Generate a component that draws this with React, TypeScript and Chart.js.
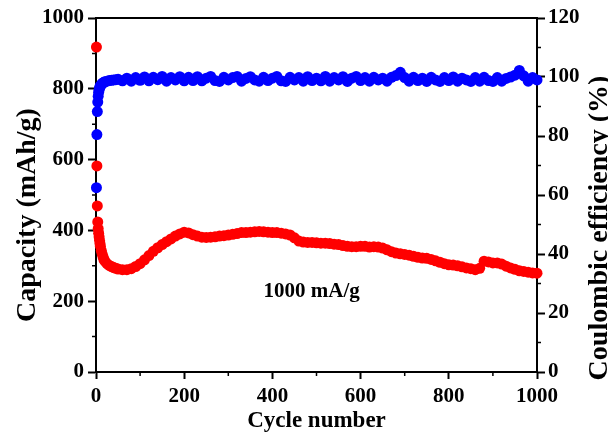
import React, { useEffect, useRef } from "react";
import { Chart, registerables } from "chart.js";

Chart.register(...registerables);

// ---- data ----
const cycles = [
  1, 2, 3, 4, 5, 6, 7, 8, 9, 10, 12, 14, 16, 18, 20, 25, 30, 35, 40, 45, 50,
  60, 70, 80, 90, 100, 110, 120, 130, 140, 150, 160, 170, 180, 190, 200,
  210, 220, 230, 240, 250, 260, 270, 280, 290, 300, 310, 320, 330, 340, 350,
  360, 370, 380, 390, 400, 410, 420, 430, 440, 450, 460, 470, 480, 490, 500,
  510, 520, 530, 540, 550, 560, 570, 580, 590, 600, 610, 620, 630, 640, 650,
  660, 670, 680, 690, 700, 710, 720, 730, 740, 750, 760, 770, 780, 790, 800,
  810, 820, 830, 840, 850, 860, 870, 880, 890, 900, 910, 920, 930, 940, 950,
  960, 970, 980, 990, 1000,
];

const capacity = [
  918, 582, 469, 424, 405, 392, 382, 372, 363, 355, 343, 333, 325, 318, 313, 306, 301, 298, 295, 293, 291,
  289, 289, 292, 298, 306, 317, 329, 341, 351, 360, 368, 376, 384, 390, 395,
  393, 388, 384, 381, 380, 381, 382, 384, 385, 387, 389, 391, 394, 394, 395,
  396, 397, 396, 395, 394, 394, 392, 390, 387, 379, 370, 367, 366, 366, 365,
  364, 364, 363, 361, 360, 357, 355, 354, 354, 355, 355, 353, 354, 353, 350,
  345, 340, 336, 334, 332, 330, 327, 324, 322, 321, 318, 314, 310, 306, 303,
  302, 300, 297, 294, 292, 289, 293, 313, 311, 308, 308, 305, 299, 294, 290,
  286, 284, 282, 280, 279,
];

const efficiency = [
  62.5, 80.5, 88.3, 91.5, 93.5, 94.8, 95.6, 96.2, 96.7, 97.0, 97.4, 97.8, 98.0, 98.2, 98.4, 98.6, 98.8, 98.9, 99.0, 99.1, 99.2,
  98.7, 99.6, 98.6, 99.8, 98.9, 100.0, 98.7, 99.9, 99.1, 100.2, 98.6, 99.8, 99.0, 100.1, 98.7,
  99.9, 98.8, 100.1, 98.7, 99.6, 100.2, 98.8, 98.5, 99.9, 99.0, 99.8, 100.2, 98.6, 99.5, 100.1,
  99.0, 98.6, 99.9, 98.8, 99.6, 100.2, 98.7, 98.5, 99.9, 99.0, 99.8, 98.6, 100.1, 98.8, 99.6,
  98.7, 100.2, 98.6, 99.8, 99.0, 100.1, 98.5, 99.6, 100.2, 98.8, 99.8, 98.6, 99.9, 99.0, 99.6,
  98.6, 99.9, 100.5, 101.6, 99.8, 98.6, 99.9, 98.8, 99.6, 98.5, 99.9, 99.0, 98.5, 99.8, 98.8,
  100.0, 98.6, 99.6, 99.0, 98.5, 99.8, 98.6, 99.9, 98.8, 98.5, 99.8, 98.6, 99.5, 100.0, 100.6,
  102.2, 100.4, 98.6, 99.8, 99.0,
];

const xMajor = [0, 200, 400, 600, 800, 1000];
const xMinor = [100, 300, 500, 700, 900];
const capMinor = [100, 300, 500, 700, 900];
const ceMinor = [10, 30, 50, 70, 90, 110];

const xTitle = "Cycle number";
const leftTitle = "Capacity (mAh/g)";
const rightTitle = "Coulombic efficiency (%)";
const note = "1000 mA/g";
const noteAt = { x: 380, y: 212 };

const FONT = '"Liberation Serif", "Times New Roman", serif';

const decor = {
  id: "decor",
  afterDraw(chart: any) {
    const { ctx, chartArea: a, scales } = chart;
    const sx = scales.x;
    const sy = scales.y;
    const sy1 = scales.y1;
    ctx.save();
    ctx.strokeStyle = "#000";
    ctx.lineWidth = 2;
    // top frame line
    ctx.beginPath();
    ctx.moveTo(a.left - 1, a.top);
    ctx.lineTo(a.right + 1, a.top);
    ctx.stroke();
    // minor ticks
    ctx.lineWidth = 1.5;
    ctx.beginPath();
    for (const v of xMinor) {
      const px = sx.getPixelForValue(v);
      ctx.moveTo(px, a.bottom);
      ctx.lineTo(px, a.bottom + 4);
    }
    for (const v of capMinor) {
      const py = sy.getPixelForValue(v);
      ctx.moveTo(a.left, py);
      ctx.lineTo(a.left - 4, py);
    }
    for (const v of ceMinor) {
      const py = sy1.getPixelForValue(v);
      ctx.moveTo(a.right, py);
      ctx.lineTo(a.right + 4, py);
    }
    ctx.stroke();

    ctx.fillStyle = "#000";
    // x title
    ctx.font = `bold 23px ${FONT}`;
    ctx.textAlign = "center";
    ctx.textBaseline = "alphabetic";
    ctx.fillText(xTitle, (a.left + a.right) / 2, 427);
    // left title
    ctx.save();
    ctx.font = `bold 28px ${FONT}`;
    ctx.translate(35, 215);
    ctx.rotate(-Math.PI / 2);
    ctx.fillText(leftTitle, 0, 0);
    ctx.restore();
    // right title
    ctx.save();
    ctx.font = `bold 28px ${FONT}`;
    ctx.translate(607, 228);
    ctx.rotate(-Math.PI / 2);
    ctx.fillText(rightTitle, 0, 0);
    ctx.restore();
    // annotation
    ctx.font = `bold 21px ${FONT}`;
    ctx.textAlign = "left";
    ctx.fillText(note, sx.getPixelForValue(noteAt.x), sy.getPixelForValue(noteAt.y));
    ctx.restore();
  },
};

const plain = (v: any) => String(v);

export default function App() {
  const ref = useRef<HTMLCanvasElement>(null);
  useEffect(() => {
    const tickFont = { family: FONT, size: 21, weight: "bold" as const };
    const chart = new Chart(ref.current as HTMLCanvasElement, {
      type: "scatter",
      data: {
        datasets: [
          {
            label: "Capacity",
            data: cycles.map((c, i) => ({ x: c, y: capacity[i] })),
            yAxisID: "y",
            backgroundColor: "#ff0000",
            borderColor: "#ff0000",
            pointRadius: 5.5,
            pointBorderWidth: 0,
            clip: false as any,
          },
          {
            label: "Coulombic efficiency",
            data: cycles.map((c, i) => ({ x: c, y: efficiency[i] })),
            yAxisID: "y1",
            backgroundColor: "#0000ff",
            borderColor: "#0000ff",
            pointRadius: 5.5,
            pointBorderWidth: 0,
            clip: false as any,
          },
        ],
      },
      options: {
        animation: false,
        responsive: true,
        maintainAspectRatio: false,
        layout: { padding: { top: 18, left: 0, right: 0, bottom: 0 } },
        plugins: { legend: { display: false }, tooltip: { enabled: false } },
        events: [],
        scales: {
          x: {
            type: "linear",
            position: "bottom",
            min: 0,
            max: 1000,
            afterBuildTicks: (s: any) => {
              s.ticks = xMajor.map((v) => ({ value: v }));
            },
            ticks: { font: tickFont, color: "#000", padding: 5, maxRotation: 0, callback: plain },
            grid: { drawOnChartArea: false, tickLength: 7, tickWidth: 2, tickColor: "#000" },
            border: { display: true, color: "#000", width: 2 },
            afterFit: (s: any) => {
              s.height = 63;
            },
          },
          y: {
            type: "linear",
            position: "left",
            min: 0,
            max: 1000,
            ticks: { stepSize: 200, font: tickFont, color: "#000", padding: 4, callback: plain },
            grid: { drawOnChartArea: false, tickLength: 8, tickWidth: 2, tickColor: "#000" },
            border: { display: true, color: "#000", width: 2 },
            afterFit: (s: any) => {
              s.width = 96;
            },
          },
          y1: {
            type: "linear",
            position: "right",
            min: 0,
            max: 120,
            ticks: { stepSize: 20, font: tickFont, color: "#000", padding: 3, callback: plain },
            grid: { drawOnChartArea: false, tickLength: 8, tickWidth: 2, tickColor: "#000" },
            border: { display: true, color: "#000", width: 2 },
            afterFit: (s: any) => {
              s.width = 71;
            },
          },
        },
      },
      plugins: [decor],
    });
    return () => chart.destroy();
  }, []);
  return (
    <div style={{ position: "fixed", left: 0, top: 0, width: 608, height: 435, background: "#fff" }}>
      <canvas ref={ref} />
    </div>
  );
}
